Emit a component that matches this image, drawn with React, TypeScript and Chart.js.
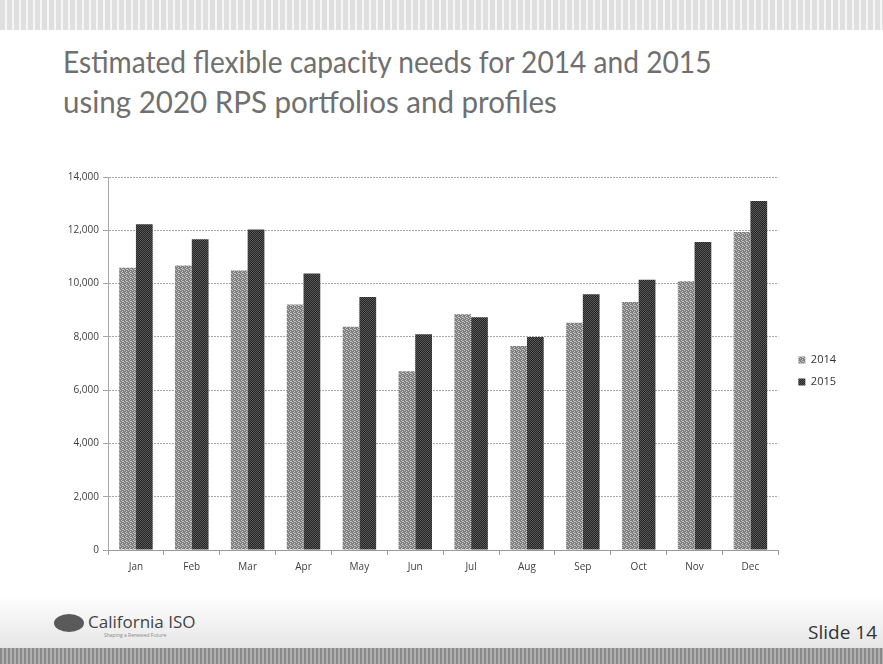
import React, { useEffect, useRef } from "react";
import { Chart, registerables } from "chart.js";

Chart.register(...registerables);

const months = ["Jan", "Feb", "Mar", "Apr", "May", "Jun", "Jul", "Aug", "Sep", "Oct", "Nov", "Dec"];
const values2014 = [10590, 10675, 10490, 9210, 8375, 6710, 8850, 7660, 8525, 9310, 10090, 11940];
const values2015 = [12225, 11660, 12025, 10375, 9500, 8100, 8740, 7990, 9600, 10140, 11560, 13100];
const yTicks = [0, 2000, 4000, 6000, 8000, 10000, 12000, 14000];

function makePattern(fg: string, bg: string, kind: number): CanvasPattern | string {
  const c = document.createElement("canvas");
  c.width = 4;
  c.height = 4;
  const ctx = c.getContext("2d");
  if (!ctx) return fg;
  ctx.fillStyle = bg;
  ctx.fillRect(0, 0, 4, 4);
  ctx.fillStyle = fg;
  if (kind === 0) {
    ctx.fillRect(0, 0, 1, 1);
    ctx.fillRect(2, 1, 1, 1);
    ctx.fillRect(1, 2, 1, 1);
    ctx.fillRect(3, 3, 1, 1);
    ctx.fillRect(2, 3, 1, 1);
  } else {
    ctx.fillRect(0, 0, 1, 1);
    ctx.fillRect(2, 0, 1, 1);
    ctx.fillRect(1, 1, 1, 1);
    ctx.fillRect(3, 1, 1, 1);
    ctx.fillRect(0, 2, 1, 1);
    ctx.fillRect(2, 2, 1, 1);
    ctx.fillRect(1, 3, 1, 1);
    ctx.fillRect(3, 3, 1, 1);
  }
  const p = ctx.createPattern(c, "repeat");
  return p || fg;
}

export default function App() {
  const ref = useRef<HTMLCanvasElement | null>(null);

  useEffect(() => {
    document.body.style.margin = "0";
    if (!ref.current) return;
    const p14 = makePattern("#c4c4c4", "#808080", 0);
    const p15 = makePattern("#5a5a5a", "#222222", 1);
    const chart = new Chart(ref.current, {
      type: "bar",
      data: {
        labels: months,
        datasets: [
          {
            label: "2014",
            data: values2014,
            backgroundColor: p14 as any,
            borderWidth: 0,
            categoryPercentage: 0.6,
            barPercentage: 1.0,
          },
          {
            label: "2015",
            data: values2015,
            backgroundColor: p15 as any,
            borderWidth: 0,
            categoryPercentage: 0.6,
            barPercentage: 1.0,
          },
        ],
      },
      options: {
        animation: false,
        responsive: false,
        maintainAspectRatio: false,
        layout: { padding: { top: 27, left: 0, right: 37, bottom: 0 } },
        plugins: {
          title: { display: false },
          tooltip: { enabled: false },
          legend: {
            position: "right",
            align: "center",
            fullSize: false,
            title: {
              display: true,
              text: " ",
              font: { family: "Open Sans", size: 9 },
              padding: { top: 2, bottom: 2 },
            },
            labels: {
              boxWidth: 7,
              boxHeight: 7,
              padding: 11,
              color: "#333333",
              font: { family: "Open Sans", size: 11 },
            },
          },
        },
        scales: {
          x: {
            offset: true,
            grid: {
              display: true,
              offset: true,
              drawOnChartArea: false,
              drawTicks: true,
              tickLength: 5,
              color: "#9a9a9a",
            },
            border: { display: true, color: "#9a9a9a", dash: [2, 1] },
            ticks: {
              color: "#404040",
              font: { family: "Open Sans", size: 10 },
              padding: 6,
            },
            afterFit: (scale: any) => {
              scale.height = 30;
            },
          },
          y: {
            min: 0,
            max: 14000,
            afterBuildTicks: (scale: any) => {
              scale.ticks = yTicks.map((v) => ({ value: v }));
            },
            grid: {
              color: "#a8a8a8",
              drawTicks: true,
              tickLength: 5,
            },
            border: { display: true, color: "#a8a8a8", dash: [2, 1] },
            ticks: {
              color: "#404040",
              font: { family: "Open Sans", size: 10 },
              padding: 4,
              callback: (v: any) => Number(v).toLocaleString("en-US"),
            },
            afterFit: (scale: any) => {
              scale.width = 108;
            },
          },
          gap: {
            type: "linear",
            position: "right",
            display: true,
            grid: { display: false, drawTicks: false },
            border: { display: false },
            ticks: { display: false },
            afterFit: (scale: any) => {
              scale.width = 9;
            },
          },
        },
      },
    });
    return () => chart.destroy();
  }, []);

  return (
    <div
      style={{
        position: "absolute",
        left: 0,
        top: 0,
        width: 883,
        height: 664,
        background: "#ffffff",
        overflow: "hidden",
        fontFamily: "Open Sans, sans-serif",
      }}
    >
      <div
        style={{
          position: "absolute",
          left: 0,
          top: 0,
          width: 883,
          height: 30,
          backgroundImage:
            "repeating-linear-gradient(90deg, #d8d8d8 0px, #d8d8d8 5px, #f4f4f4 5px, #f4f4f4 7px), linear-gradient(180deg, rgba(255,255,255,0) 0%, rgba(255,255,255,0.6) 100%)",
          opacity: 0.8,
        }}
      />
      <div
        style={{
          position: "absolute",
          left: 63,
          top: 41,
          color: "#707070",
          fontFamily: "Lato, sans-serif",
          fontWeight: 400,
          fontSize: 30,
          lineHeight: "40px",
          whiteSpace: "nowrap",
        }}
      >
        <div style={{ transform: "scaleX(0.938)", transformOrigin: "left center" }}>
          Estimated flexible capacity needs for 2014 and 2015
        </div>
        <div style={{ transform: "scaleX(0.984)", transformOrigin: "left center" }}>
          using 2020 RPS portfolios and profiles
        </div>
      </div>
      <canvas
        ref={ref}
        width={883}
        height={430}
        style={{ position: "absolute", left: 0, top: 150, width: 883, height: 430 }}
      />
      <div
        style={{
          position: "absolute",
          left: 0,
          top: 595,
          width: 883,
          height: 53,
          background: "linear-gradient(180deg, #ffffff 0%, #f0f0f0 60%, #e6e6e6 100%)",
        }}
      />
      <div
        style={{
          position: "absolute",
          left: 54,
          top: 614,
          width: 30,
          height: 18,
          borderRadius: "50%",
          background: "#5a5a5a",
        }}
      />
      <div
        style={{
          position: "absolute",
          left: 88,
          top: 612,
          color: "#444",
          fontFamily: "Open Sans, sans-serif",
          fontSize: 17,
          lineHeight: "20px",
        }}
      >
        California ISO
      </div>
      <div
        style={{
          position: "absolute",
          left: 104,
          top: 632,
          color: "#888",
          fontFamily: "Open Sans, sans-serif",
          fontSize: 5,
          lineHeight: "6px",
        }}
      >
        Shaping a Renewed Future
      </div>
      <div
        style={{
          position: "absolute",
          right: 6,
          top: 620,
          color: "#333",
          fontFamily: "Open Sans, sans-serif",
          fontSize: 19,
          lineHeight: "24px",
        }}
      >
        Slide 14
      </div>
      <div
        style={{
          position: "absolute",
          left: 0,
          top: 648,
          width: 883,
          height: 16,
          backgroundImage:
            "repeating-linear-gradient(90deg, #8a8a8a 0px, #8a8a8a 2px, #b0b0b0 2px, #b0b0b0 4px)",
        }}
      />
    </div>
  );
}
